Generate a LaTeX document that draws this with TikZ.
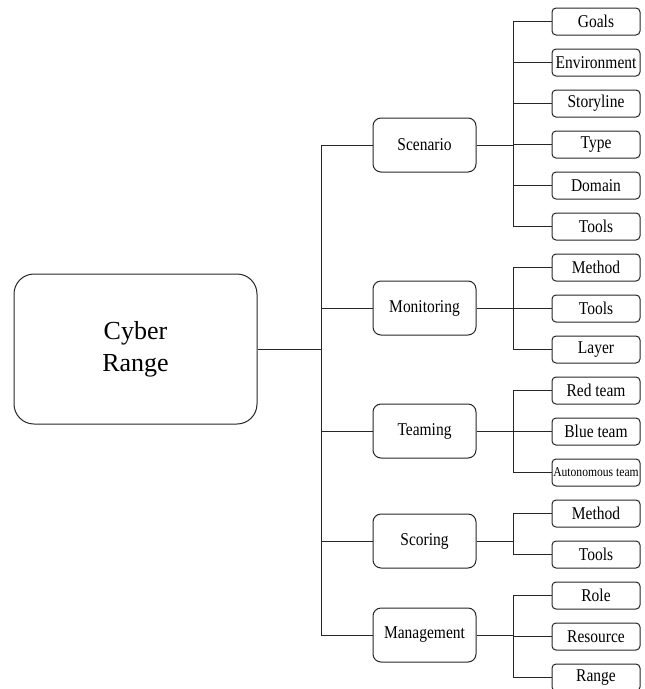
\documentclass[tikz,border=0pt]{standalone}
\usepackage{fontspec}
\setmainfont{Liberation Serif}
\newfontfamily\narrowserif[FakeStretch=0.86]{Liberation Serif}
\usetikzlibrary{calc}

\begin{document}
\begin{tikzpicture}[x=1pt, y=-1pt, line width=1pt, draw=black!85,
    rootbox/.style={draw, rounded corners=20pt, minimum width=243pt, minimum height=150pt, align=center, font=\fontsize{26}{32}\selectfont},
    midbox/.style={draw, rounded corners=8pt, minimum width=103pt, minimum height=54pt, inner sep=1pt, font=\narrowserif\fontsize{18}{20}\selectfont},
    leafbox/.style={draw, rounded corners=4pt, minimum width=88pt, minimum height=27pt, inner sep=1pt, font=\narrowserif\fontsize{18}{20}\selectfont}]
    \useasboundingbox (0,0) rectangle (645,689);

    \coordinate (trunk) at (321,0);
    \coordinate (twig) at (513,0);

    \node[rootbox] (cyber) at (135.5,349) {Cyber\\Range};

    \node[midbox] (scen) at (424.5,145) {Scenario};
    \node[midbox] (mon) at (424.5,308) {Monitoring};
    \node[midbox] (team) at (424.5,431) {Teaming};
    \node[midbox] (scor) at (424.5,541) {Scoring};
    \node[midbox] (man) at (424.5,635) {Management};

    \node[leafbox] (goals) at (596,21.5) {Goals};
    \node[leafbox] (env) at (596,62.5) {Environment};
    \node[leafbox] (story) at (596,103.5) {Storyline};
    \node[leafbox] (type) at (596,144.5) {Type};
    \node[leafbox] (domain) at (596,185.5) {Domain};
    \node[leafbox] (tools1) at (596,226.5) {Tools};
    \node[leafbox] (method1) at (596,267.5) {Method};
    \node[leafbox] (tools2) at (596,308.5) {Tools};
    \node[leafbox] (layer) at (596,349.5) {Layer};
    \node[leafbox] (red) at (596,390.5) {Red team};
    \node[leafbox] (blue) at (596,431.5) {Blue team};
    \node[leafbox, font=\narrowserif\fontsize{13.5}{15}\selectfont] (auto) at (596,472.5) {Autonomous team};
    \node[leafbox] (method2) at (596,513.5) {Method};
    \node[leafbox] (tools3) at (596,554.5) {Tools};
    \node[leafbox] (role) at (596,595.5) {Role};
    \node[leafbox] (res) at (596,636.5) {Resource};
    \node[leafbox] (range) at (596,677.5) {Range};

    % trunk
    \draw (cyber.east) -- (cyber.east -| trunk);
    \draw (scen.west) -- (scen.west -| trunk) -- (man.west -| trunk) -- (man.west);
    \draw (mon.west) -- (mon.west -| trunk);
    \draw (team.west) -- (team.west -| trunk);
    \draw (scor.west) -- (scor.west -| trunk);

    % scenario
    \draw (scen.east) -- (scen.east -| twig);
    \draw (goals.west) -- (goals.west -| twig) -- (tools1.west -| twig) -- (tools1.west);
    \draw (env.west) -- (env.west -| twig);
    \draw (story.west) -- (story.west -| twig);
    \draw (type.west) -- (type.west -| twig);
    \draw (domain.west) -- (domain.west -| twig);

    % monitoring
    \draw (mon.east) -- (mon.east -| twig);
    \draw (method1.west) -- (method1.west -| twig) -- (layer.west -| twig) -- (layer.west);
    \draw (tools2.west) -- (tools2.west -| twig);

    % teaming
    \draw (team.east) -- (team.east -| twig);
    \draw (red.west) -- (red.west -| twig) -- (auto.west -| twig) -- (auto.west);
    \draw (blue.west) -- (blue.west -| twig);

    % scoring
    \draw (scor.east) -- (scor.east -| twig);
    \draw (method2.west) -- (method2.west -| twig) -- (tools3.west -| twig) -- (tools3.west);

    % management
    \draw (man.east) -- (man.east -| twig);
    \draw (role.west) -- (role.west -| twig) -- (range.west -| twig) -- (range.west);
    \draw (res.west) -- (res.west -| twig);
\end{tikzpicture}
\end{document}
